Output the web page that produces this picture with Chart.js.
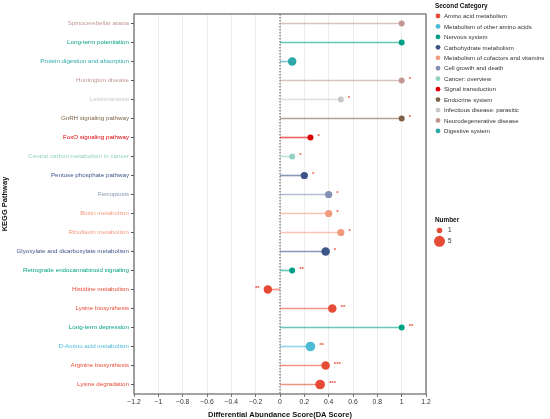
<!DOCTYPE html>
<html>
<head>
<meta charset="utf-8">
<script src="https://cdn.jsdelivr.net/npm/chart.js@4/dist/chart.umd.min.js"></script>
<style>
  body { margin: 0; background: #fff; }
  #wrap { width: 550px; height: 419px; position: relative; }
</style>
</head>
<body>
<div id="wrap"><canvas id="lollipop"></canvas></div>
<script>
// KEGG pathways, top to bottom
var pathways = [
    "Spinocerebellar ataxia", "Long-term potentiation", "Protein digestion and absorption",
    "Huntington disease", "Leishmaniasis", "GnRH signaling pathway", "FoxO signaling pathway",
    "Central carbon metabolism in cancer", "Pentose phosphate pathway", "Ferroptosis",
    "Biotin metabolism", "Riboflavin metabolism", "Glyoxylate and dicarboxylate metabolism",
    "Retrograde endocannabinoid signaling", "Histidine metabolism", "Lysine biosynthesis",
    "Long-term depression", "D-Amino acid metabolism", "Arginine biosynthesis", "Lysine degradation"
];
var daScore = [1, 1, 0.1, 1, 0.5, 1, 0.25, 0.1, 0.2, 0.4, 0.4, 0.5, 0.375, 0.1, -0.1, 0.43, 1, 0.25, 0.375, 0.33];
var numbers = [1, 1, 3, 1, 1, 1, 1, 1, 2, 2, 2, 2, 3, 1, 3, 3, 1, 4, 3, 4];
var stars = ["", "", "", "*", "*", "*", "*", "*", "*", "*", "*", "*", "*", "**", "**", "**", "**", "**", "***", "***"];
var categoryOf = [10, 2, 11, 10, 9, 8, 7, 6, 3, 5, 4, 4, 3, 2, 0, 0, 2, 1, 0, 0];

var categories = [
    "Amino acid metabolism", "Metabolism of other amino acids", "Nervous system",
    "Carbohydrate metabolism", "Metabolism of cofactors and vitamins", "Cell growth and death",
    "Cancer: overview", "Signal transduction", "Endocrine system",
    "Infectious disease: parasitic", "Neurodegenerative disease", "Digestive system"
];
var catColors = [
    "#E64B35", "#4DBBD5", "#00A087", "#3C5488", "#F39B7F", "#8491B4",
    "#91D1C2", "#DC0000", "#7E6148", "#C8C8C8", "#C09891", "#2FA8AA"
];
var xTicks = [-1.2, -1, -0.8, -0.6, -0.4, -0.2, 0, 0.2, 0.4, 0.6, 0.8, 1, 1.2];
var sizeBreaks = [1, 5];

var FONT = "'Liberation Sans', Arial, sans-serif";

function radiusFor(n) {
    return 3 + 0.62 * (n - 1);
}

function hexAlpha(hex, a) {
    var r = parseInt(hex.substr(1, 2), 16), g = parseInt(hex.substr(3, 2), 16), b = parseInt(hex.substr(5, 2), 16);
    return "rgba(" + r + "," + g + "," + b + "," + a + ")";
}

var pointColors = categoryOf.map(function(c) { return catColors[c]; });
var lineColors = categoryOf.map(function(c) { return hexAlpha(catColors[c], 0.6); });

// frame, zero line, stars and the two legends
var decorations = {
    id: "decorations",
    beforeDatasetsDraw: function(chart) {
        var ctx = chart.ctx, a = chart.chartArea, x = chart.scales.x;
        var x0 = x.getPixelForValue(0);
        ctx.save();
        ctx.strokeStyle = "#555";
        ctx.lineWidth = 1;
        ctx.setLineDash([1.5, 1.5]);
        ctx.beginPath();
        ctx.moveTo(x0, a.top);
        ctx.lineTo(x0, a.bottom);
        ctx.stroke();
        ctx.restore();
    },
    afterDraw: function(chart) {
        var ctx = chart.ctx, a = chart.chartArea;
        var x = chart.scales.x, y = chart.scales.y;
        ctx.save();
        ctx.strokeStyle = "#666";
        ctx.lineWidth = 1.2;
        ctx.strokeRect(a.left, a.top, a.right - a.left, a.bottom - a.top);

        // significance stars, on the outer side of the point
        ctx.fillStyle = "#E64B35";
        ctx.font = "bold 6px " + FONT;
        ctx.textBaseline = "middle";
        for (var i = 0; i < pathways.length; i++) {
            if (!stars[i]) continue;
            var off = radiusFor(numbers[i]) + 4;
            var px = x.getPixelForValue(daScore[i]);
            var py = y.getPixelForValue(i) - 1;
            if (daScore[i] < 0) {
                ctx.textAlign = "right";
                ctx.fillText(stars[i], px - off, py);
            } else {
                ctx.textAlign = "left";
                ctx.fillText(stars[i], px + off, py);
            }
        }
        ctx.textAlign = "left";

        // Second Category legend
        var lx = 435;
        ctx.fillStyle = "#111";
        ctx.font = "bold 6.4px " + FONT;
        ctx.fillText("Second Category", lx, 6);
        ctx.font = "6.1px " + FONT;
        for (var c = 0; c < categories.length; c++) {
            var ly = 16 + c * 10.45;
            ctx.fillStyle = catColors[c];
            ctx.beginPath();
            ctx.arc(lx + 3, ly, 2.4, 0, Math.PI * 2);
            ctx.fill();
            ctx.fillStyle = "#333";
            ctx.fillText(categories[c], lx + 9, ly + 0.5);
        }

        // Number legend
        ctx.fillStyle = "#111";
        ctx.font = "bold 6.4px " + FONT;
        ctx.fillText("Number", lx, 220);
        ctx.font = "6.4px " + FONT;
        for (var s = 0; s < sizeBreaks.length; s++) {
            var sy = 230.5 + s * 10.8;
            ctx.fillStyle = "#E64B35";
            ctx.beginPath();
            ctx.arc(lx + 4.5, sy, s ? 5.5 : 2.8, 0, Math.PI * 2);
            ctx.fill();
            ctx.fillStyle = "#333";
            ctx.fillText(String(sizeBreaks[s]), lx + 13, sy);
        }
        ctx.restore();
    }
};

var ctx = document.getElementById("lollipop").getContext("2d");
new Chart(ctx, {
    type: "bar",
    data: {
        labels: pathways,
        datasets: [{
            type: "line",
            indexAxis: "y",
            data: daScore,
            showLine: false,
            pointRadius: numbers.map(radiusFor),
            pointHoverRadius: numbers.map(radiusFor),
            pointBackgroundColor: pointColors,
            pointBorderWidth: 0,
            order: 0
        }, {
            type: "bar",
            data: daScore.map(function(v) { return [0, v]; }),
            backgroundColor: lineColors,
            borderWidth: 0,
            barThickness: 1,
            order: 1
        }]
    },
    options: {
        indexAxis: "y",
        responsive: true,
        maintainAspectRatio: false,
        animation: false,
        layout: { padding: { top: 14, right: 124, left: 0, bottom: 0 } },
        plugins: {
            legend: { display: false },
            tooltip: { enabled: false }
        },
        scales: {
            x: {
                type: "linear",
                min: -1.2,
                max: 1.2,
                afterBuildTicks: function(scale) {
                    scale.ticks = xTicks.map(function(v) { return { value: v }; });
                },
                afterFit: function(scale) { scale.height = 25; },
                border: { display: false },
                grid: {
                    color: "#e8e8e8",
                    lineWidth: 0.8,
                    tickLength: 3,
                    tickColor: "#555"
                },
                ticks: {
                    color: "#333",
                    padding: 1,
                    font: { family: FONT, size: 6.8 },
                    callback: function(v) {
                        var r = Math.round(v * 10) / 10;
                        return r < 0 ? "\u2212" + Math.abs(r) : String(r);
                    }
                },
                title: {
                    display: true,
                    text: "Differential Abundance Score(DA Score)",
                    color: "#111",
                    padding: { top: 0, bottom: 0 },
                    font: { family: FONT, size: 7.5, weight: "bold" }
                }
            },
            y: {
                type: "category",
                offset: true,
                afterFit: function(scale) { scale.width = 134; },
                border: { display: false },
                grid: {
                    offset: false,
                    drawOnChartArea: false,
                    tickLength: 3,
                    tickColor: "#555"
                },
                ticks: {
                    autoSkip: false,
                    padding: 2,
                    font: { family: FONT, size: 6.2 },
                    color: function(c) { return pointColors[c.index]; }
                },
                title: {
                    display: true,
                    text: "KEGG Pathway",
                    color: "#111",
                    padding: { top: 0, bottom: 0 },
                    font: { family: FONT, size: 7.5, weight: "bold" }
                }
            }
        }
    },
    plugins: [decorations]
});
</script>
</body>
</html>
